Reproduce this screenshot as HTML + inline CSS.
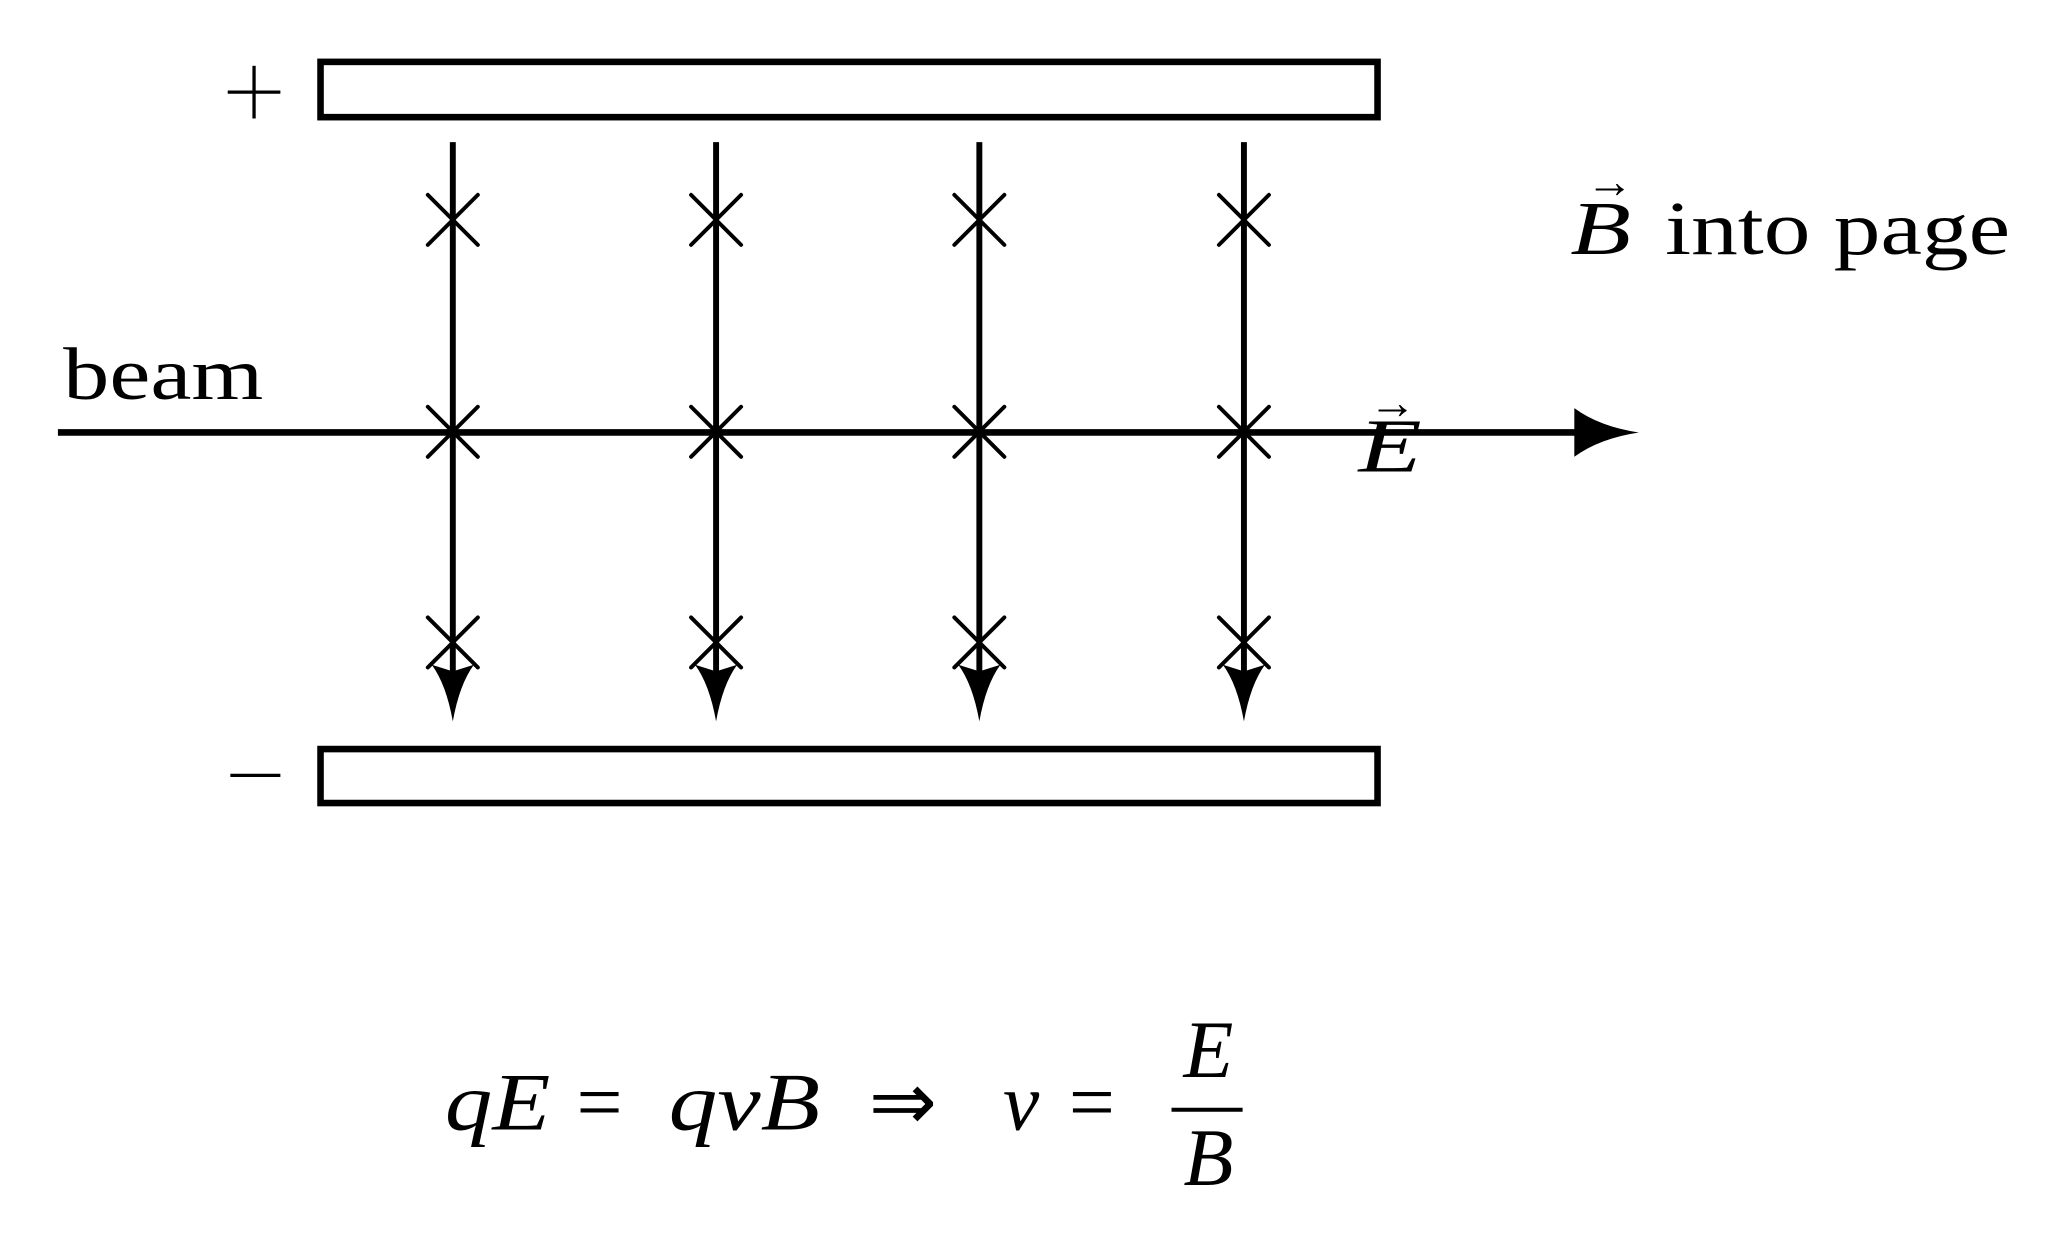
<!DOCTYPE html>
<html><head><meta charset="utf-8"><style>html,body{margin:0;padding:0;background:#fff}svg{display:block}</style></head>
<body>
<svg width="2064" height="1248" viewBox="0 0 1568 948" preserveAspectRatio="none" xmlns="http://www.w3.org/2000/svg" font-family="'Liberation Serif', serif">
<rect x="243.5" y="47" width="803" height="42" fill="none" stroke="#000" stroke-width="5"/>
<rect x="243.5" y="569" width="803" height="41" fill="none" stroke="#000" stroke-width="5"/>
<g stroke="#000" stroke-width="2.5"><line x1="173" y1="70" x2="213" y2="70"/><line x1="193" y1="50" x2="193" y2="90"/><line x1="175" y1="589" x2="213" y2="589"/></g>
<line x1="44" y1="328.5" x2="1205" y2="328.5" stroke="#000" stroke-width="5"/>
<path d="M1245 328.5 Q1215 333 1196 347 L1196 310 Q1215 324 1245 328.5Z" fill="#000"/>
<g id="col">
<line x1="344" y1="108" x2="344" y2="515" stroke="#000" stroke-width="4.5"/>
<path d="M344 548 Q339 520 328 505 L344 510 L360 505 Q349 520 344 548Z" fill="#000"/>
<g stroke="#000" stroke-width="3" stroke-linecap="round">
<path d="M325 148 L363 186 M363 148 L325 186"/>
<path d="M325 309 L363 347 M363 309 L325 347"/>
<path d="M325 469 L363 507 M363 469 L325 507"/>
</g></g>
<use href="#col" x="200"/><use href="#col" x="400"/><use href="#col" x="601"/>
<text x="48" y="303" font-size="56" textLength="152" lengthAdjust="spacingAndGlyphs">beam</text>
<text x="1032" y="358" font-size="58" font-style="italic" textLength="48" lengthAdjust="spacingAndGlyphs">E</text>
<text x="1040" y="318" font-size="36">→</text>
<text x="1193" y="193" font-size="58" font-style="italic" textLength="46" lengthAdjust="spacingAndGlyphs">B</text>
<text x="1265" y="193" font-size="58" textLength="262" lengthAdjust="spacingAndGlyphs">into page</text>
<text x="1205" y="150" font-size="36">→</text>
<g font-size="62">
<text x="338" y="858" font-style="italic" textLength="80" lengthAdjust="spacingAndGlyphs">qE</text>
<text x="438" y="858">=</text>
<text x="508" y="858" font-style="italic" textLength="115" lengthAdjust="spacingAndGlyphs">qvB</text>
<text x="660" y="858">⇒</text>
<text x="762" y="858" font-style="italic">v</text>
<text x="812" y="858">=</text>
</g>
<text x="918" y="818" font-size="62" font-style="italic" text-anchor="middle">E</text>
<line x1="890" y1="843" x2="944" y2="843" stroke="#000" stroke-width="3"/>
<text x="918" y="900" font-size="62" font-style="italic" text-anchor="middle">B</text>
</svg>
</body></html>
